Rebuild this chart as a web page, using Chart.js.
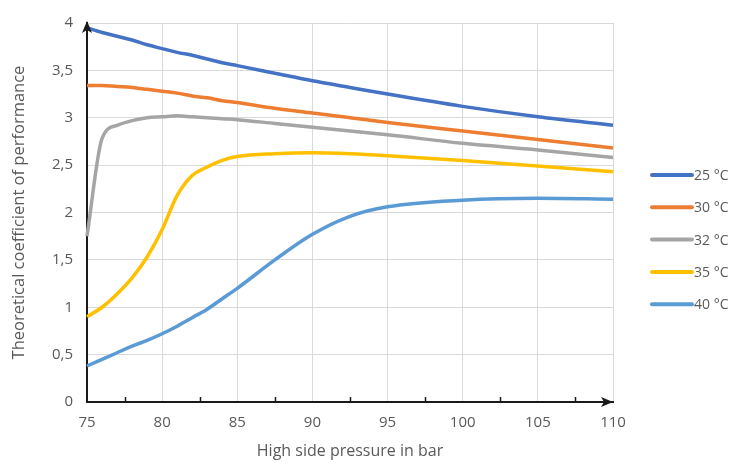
<!DOCTYPE html>
<html>
<head>
<meta charset="utf-8">
<script src="https://cdn.jsdelivr.net/npm/chart.js@4"></script>
<style>
  html, body { margin: 0; padding: 0; background: #fff; }
  #wrap { width: 733px; height: 465px; position: relative; }
</style>
</head>
<body>
<div id="wrap"><canvas id="cop"></canvas></div>
<script>
const pressures = [75, 76, 77, 78, 79, 80, 81, 82, 83, 84, 85, 87.5, 90, 92.5, 95, 100, 105, 110];

const cop25 = [3.95, 3.90, 3.86, 3.82, 3.77, 3.73, 3.69, 3.66, 3.62, 3.58, 3.55, 3.47, 3.39, 3.32, 3.25, 3.12, 3.01, 2.92];
const cop30 = [3.34, 3.34, 3.33, 3.32, 3.30, 3.28, 3.26, 3.23, 3.21, 3.18, 3.16, 3.10, 3.05, 3.00, 2.95, 2.86, 2.77, 2.68];
const cop32 = [1.75, 2.78, 2.92, 2.97, 3.00, 3.01, 3.02, 3.01, 3.00, 2.99, 2.98, 2.94, 2.90, 2.86, 2.82, 2.73, 2.66, 2.58];
const cop35 = [0.90, 1.00, 1.14, 1.31, 1.53, 1.82, 2.18, 2.39, 2.48, 2.55, 2.59, 2.62, 2.63, 2.62, 2.60, 2.55, 2.49, 2.43];
const cop40 = [0.38, 0.45, 0.52, 0.59, 0.65, 0.72, 0.80, 0.89, 0.98, 1.09, 1.20, 1.50, 1.77, 1.96, 2.06, 2.13, 2.15, 2.14];

const seriesLabels = ['25 °C', '30 °C', '32 °C', '35 °C', '40 °C'];
const seriesColors = ['#4472C4', '#ED7D31', '#A5A5A5', '#FFC000', '#5B9BD5'];
const seriesValues = [cop25, cop30, cop32, cop35, cop40];

// small tick marks on the x axis between the labelled values
const minorTicks = [77.5, 82.5, 87.5, 92.5, 97.5, 102.5, 107.5];

const textColor = '#595959';
const fontFamily = '"Open Sans", sans-serif';

const datasets = seriesValues.map((vals, i) => ({
    label: seriesLabels[i],
    data: vals.map((v, j) => ({ x: pressures[j], y: v })),
    borderColor: seriesColors[i],
    backgroundColor: seriesColors[i],
    borderWidth: 3.5,
    pointRadius: 0,
    cubicInterpolationMode: 'monotone',
    fill: false,
    clip: false
}));

// arrows on the axes, minor ticks and the legend at the right
const decorations = {
    id: 'decorations',
    afterDraw(chart) {
        const ctx = chart.ctx;
        const area = chart.chartArea;
        const xs = chart.scales.x;
        ctx.save();
        ctx.strokeStyle = '#1a1a1a';
        ctx.fillStyle = '#1a1a1a';
        ctx.lineWidth = 1.5;
        minorTicks.forEach(t => {
            const px = Math.round(xs.getPixelForValue(t)) + 0.5;
            ctx.beginPath();
            ctx.moveTo(px, area.bottom);
            ctx.lineTo(px, area.bottom - 5);
            ctx.stroke();
        });

        // arrow head pointing up on y axis
        ctx.beginPath();
        ctx.moveTo(area.left, area.top - 2);
        ctx.lineTo(area.left - 5, area.top + 10);
        ctx.lineTo(area.left, area.top + 7);
        ctx.lineTo(area.left + 5, area.top + 10);
        ctx.closePath();
        ctx.fill();

        // arrow head pointing right on x axis
        ctx.beginPath();
        ctx.moveTo(area.right, area.bottom);
        ctx.lineTo(area.right - 12, area.bottom - 5);
        ctx.lineTo(area.right - 9, area.bottom);
        ctx.lineTo(area.right - 12, area.bottom + 5);
        ctx.closePath();
        ctx.fill();

        // legend
        ctx.font = '14px ' + fontFamily;
        ctx.textBaseline = 'middle';
        chart.data.datasets.forEach((ds, i) => {
            const y = 175 + i * 32.3;
            const x0 = area.right + 39;
            ctx.strokeStyle = ds.borderColor;
            ctx.lineWidth = 4;
            ctx.lineCap = 'round';
            ctx.beginPath();
            ctx.moveTo(x0, y);
            ctx.lineTo(x0 + 40, y);
            ctx.stroke();
            ctx.fillStyle = textColor;
            ctx.fillText(ds.label, x0 + 42, y + 1);
        });
        ctx.restore();
    }
};

new Chart(document.getElementById('cop').getContext('2d'), {
    type: 'line',
    data: { datasets: datasets },
    options: {
        responsive: true,
        maintainAspectRatio: false,
        animation: false,
        layout: { padding: { top: 14, right: 120, left: 0, bottom: 0 } },
        plugins: {
            legend: { display: false },
            tooltip: { enabled: false }
        },
        scales: {
            x: {
                type: 'linear',
                min: 75,
                max: 110,
                ticks: {
                    stepSize: 5,
                    color: textColor,
                    font: { family: fontFamily, size: 15 },
                    padding: 12
                },
                grid: { color: '#d9d9d9', lineWidth: 1, drawTicks: false },
                border: { color: '#1a1a1a', width: 2 },
                title: {
                    display: true,
                    text: 'High side pressure in bar',
                    color: textColor,
                    font: { family: fontFamily, size: 16 },
                    padding: { top: 5 }
                },
                afterFit: s => { s.height = 63; }
            },
            y: {
                min: 0,
                max: 4,
                ticks: {
                    stepSize: 0.5,
                    color: textColor,
                    font: { family: fontFamily, size: 15 },
                    padding: 14,
                    callback: v => String(v).replace('.', ',')
                },
                grid: { color: '#d9d9d9', lineWidth: 1, drawTicks: false },
                border: { color: '#1a1a1a', width: 2 },
                title: {
                    display: true,
                    text: 'Theoretical coefficient of performance',
                    color: textColor,
                    font: { family: fontFamily, size: 16.5 },
                    padding: { top: 9, bottom: 0 }
                },
                afterFit: s => { s.width = 87; }
            }
        }
    },
    plugins: [decorations]
});
</script>
</body>
</html>
